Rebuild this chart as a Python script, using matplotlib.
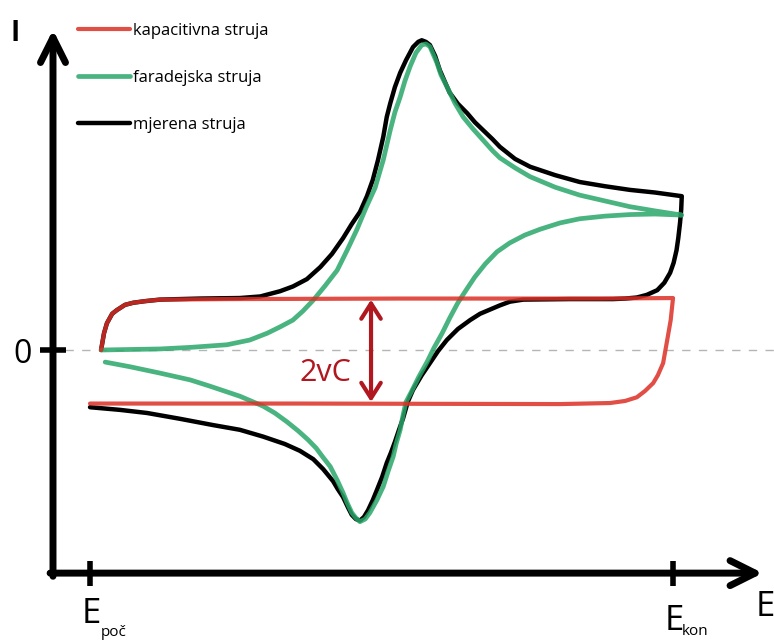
import matplotlib
matplotlib.use('Agg')
import matplotlib.pyplot as plt

plt.rcParams['font.family'] = ['Open Sans', 'DejaVu Sans']

# potential E: 0 = E_poc, 100 = E_kon ; current I in units of vC
cap_E = [1.9, 2.4, 2.9, 3.8, 4.6, 6.0, 7.4, 9.4, 12.0, 23.5, 53.2, 87.5, 100.0,
         99.6, 99.1, 98.3, 97.4, 96.6, 95.2, 93.8, 91.8, 89.2, 80.6, 36.0, 0.0]
cap_I = [0.0, 0.32, 0.51, 0.69, 0.76, 0.86, 0.90, 0.93, 0.96, 0.97, 0.98, 0.98, 0.99,
         0.57, 0.25, -0.25, -0.48, -0.63, -0.78, -0.90, -0.97, -1.01, -1.03, -1.02, -1.02]

far_E = [1.9, 6.9, 12.0, 17.2, 23.5, 27.4, 30.4, 32.6, 34.8, 36.5, 38.3, 40.3, 42.4,
         44.1, 45.8, 47.3, 48.9, 50.3, 51.5, 52.3, 53.2, 54.0, 54.9, 55.9, 56.9, 57.6,
         58.3, 59.5, 60.2, 61.2, 62.6, 64.0, 65.7, 67.4, 69.1, 70.3, 72.9, 75.5, 79.8,
         84.0, 88.3, 92.6, 96.9, 101.5,
         96.9, 92.6, 88.3, 84.0, 80.6, 77.2, 74.6, 72.0, 69.8, 67.8, 66.0, 64.5, 63.1,
         61.7, 60.4, 59.0, 57.8, 56.4, 55.1, 54.2, 53.7, 53.2, 52.5, 52.0, 51.1, 50.3,
         49.2, 48.0, 47.2, 46.3, 45.6, 44.9, 44.1, 43.4, 42.4, 41.2, 39.8, 38.8, 37.4,
         35.7, 33.8, 31.7, 29.7, 25.7, 20.6, 17.2, 12.0, 6.9, 2.6]
far_I = [0.0, 0.01, 0.02, 0.05, 0.10, 0.19, 0.32, 0.44, 0.57, 0.74, 0.95, 1.22, 1.52,
         1.90, 2.30, 2.70, 3.09, 3.62, 4.19, 4.53, 4.82, 5.12, 5.40, 5.66, 5.81, 5.83,
         5.78, 5.47, 5.24, 5.02, 4.70, 4.44, 4.21, 4.00, 3.79, 3.66, 3.47, 3.30, 3.10,
         2.95, 2.84, 2.73, 2.65, 2.57,
         2.59, 2.58, 2.55, 2.50, 2.42, 2.30, 2.19, 2.04, 1.87, 1.64, 1.39, 1.14, 0.90,
         0.61, 0.32, 0.04, -0.23, -0.51, -0.80, -0.99, -1.24, -1.52, -1.79, -2.03, -2.32, -2.60,
         -2.86, -3.10, -3.22, -3.27, -3.20, -3.10, -2.91, -2.72, -2.48, -2.22, -2.02, -1.87, -1.71,
         -1.54, -1.37, -1.20, -1.07, -0.88, -0.69, -0.57, -0.44, -0.32, -0.23]

mj_E = [1.9, 2.4, 2.9, 3.8, 4.6, 6.0, 7.4, 9.4, 12.0, 18.9, 25.7, 29.2, 32.6, 34.8,
        37.2, 39.5, 41.5, 43.4, 44.9, 46.3, 47.5, 48.5, 49.4, 50.3, 50.9, 51.5, 52.3,
        53.2, 54.2, 55.4, 56.3, 56.9, 57.6, 58.3, 59.2, 60.0, 60.9, 61.7, 63.1, 64.7,
        66.0, 67.4, 69.0, 70.3, 72.9, 75.5, 79.8, 84.0, 88.3, 92.6, 96.9, 101.5,
        101.4, 101.2, 100.9, 100.6, 100.1, 99.5, 98.5, 97.3, 95.5, 93.8, 91.8, 89.7,
        82.3, 74.3, 72.0, 70.3, 68.6, 66.9, 65.2, 63.1, 61.2, 59.7, 58.3, 56.9, 55.4,
        54.5, 53.7, 53.0, 52.3, 51.6, 50.9, 50.1, 49.2, 48.5, 47.7, 47.0, 46.3, 45.6,
        44.9, 44.3, 43.4, 42.5, 41.7, 40.0, 38.3, 36.0, 33.4, 29.7, 25.7, 21.1, 15.4,
        9.8, 5.1, 0.0]
mj_I = [0.0, 0.32, 0.51, 0.69, 0.76, 0.86, 0.90, 0.93, 0.96, 0.98, 0.99, 1.02, 1.12, 1.21,
        1.35, 1.58, 1.83, 2.13, 2.40, 2.63, 2.93, 3.24, 3.62, 4.06, 4.44, 4.70, 5.01,
        5.28, 5.52, 5.77, 5.87, 5.90, 5.87, 5.81, 5.60, 5.33, 5.10, 4.90, 4.69, 4.51,
        4.34, 4.19, 4.02, 3.87, 3.64, 3.49, 3.33, 3.20, 3.12, 3.05, 3.00, 2.93,
        2.67, 2.42, 2.13, 1.90, 1.66, 1.47, 1.28, 1.14, 1.05, 1.00, 0.98, 0.97,
        0.97, 0.96, 0.92, 0.85, 0.77, 0.69, 0.57, 0.40, 0.19, -0.02, -0.25, -0.48, -0.76,
        -0.99, -1.30, -1.52, -1.75, -1.96, -2.15, -2.42, -2.67, -2.86, -3.05, -3.18, -3.25, -3.22,
        -3.14, -3.01, -2.80, -2.65, -2.50, -2.27, -2.08, -1.92, -1.79, -1.65, -1.52, -1.43, -1.31,
        -1.20, -1.14, -1.09]

labels = ['kapacitivna struja', 'faradejska struja', 'mjerena struja']
E_ticks = [0, 100]

fig = plt.figure(figsize=(7.74, 6.41), dpi=100)
ax = fig.add_axes([0, 0, 1, 1])
ax.set_xlim(-15.44, 117.32)
ax.set_ylim(-5.543, 6.667)

black, = ax.plot(mj_E, mj_I, color='black', lw=3.2, solid_capstyle='round', zorder=3)
green, = ax.plot(far_E, far_I, color='#2aa76a', lw=3.4, alpha=0.85, solid_capstyle='round', zorder=4)
red, = ax.plot(cap_E, cap_I, color='#dc2f26', lw=3.0, alpha=0.85, solid_capstyle='round', zorder=5)

ax.axhline(0, xmin=0.084, xmax=1, color='#b5b5b5', lw=1, ls=(0, (6, 6)), zorder=1)

# axes with arrow heads
ax_E, ax_I = -6.35, -4.25
ax.annotate('', xy=(ax_E, 6.10), xytext=(ax_E, ax_I - 0.06),
            arrowprops=dict(arrowstyle='->,head_length=1.8,head_width=0.9', lw=5, color='black',
                            shrinkA=0, shrinkB=0))
ax.annotate('', xy=(115.4, ax_I), xytext=(ax_E - 0.5, ax_I),
            arrowprops=dict(arrowstyle='->,head_length=1.8,head_width=0.9', lw=5, color='black',
                            shrinkA=0, shrinkB=0))

for s in ax.spines.values():
    s.set_visible(False)
ax.spines['bottom'].set_position(('data', ax_I))
ax.spines['left'].set_position(('data', ax_E))
ax.set_xticks(E_ticks)
ax.set_xticklabels([])
ax.set_yticks([0])
ax.set_yticklabels(['0'], fontsize=23)
ax.tick_params(axis='x', direction='inout', length=18, width=4)
ax.tick_params(axis='y', direction='inout', length=19, width=4, pad=6)

# 2vC
ax.annotate('', xy=(48.2, 0.96), xytext=(48.2, -0.99),
            arrowprops=dict(arrowstyle='<->,head_length=1.1,head_width=0.7', lw=3, color='#b0171f',
                            shrinkA=0, shrinkB=0))
ax.text(40.3, -0.44, '2vC', fontsize=22, color='#b0171f', ha='center', va='center')

ax.text(-12.78, 6.03, 'I', fontsize=20, fontweight='bold', ha='center', va='center')
ax.text(0.26, -5.02, 'E', fontsize=25, ha='center', va='center')
ax.text(4.03, -5.39, 'poč', fontsize=11, ha='center', va='center')
ax.text(100.26, -5.16, 'E', fontsize=25, ha='center', va='center')
ax.text(103.8, -5.36, 'kon', fontsize=11, ha='center', va='center')
ax.text(115.8, -4.90, 'E', fontsize=25, ha='center', va='center')

ax.legend([red, green, black], labels, loc='upper left', bbox_to_anchor=(0.1008, 0.964),
          frameon=False, borderpad=0, borderaxespad=0, handlelength=3.1, handletextpad=0.2,
          labelspacing=1.85, fontsize=12)

fig.savefig('out.png', dpi=100)
